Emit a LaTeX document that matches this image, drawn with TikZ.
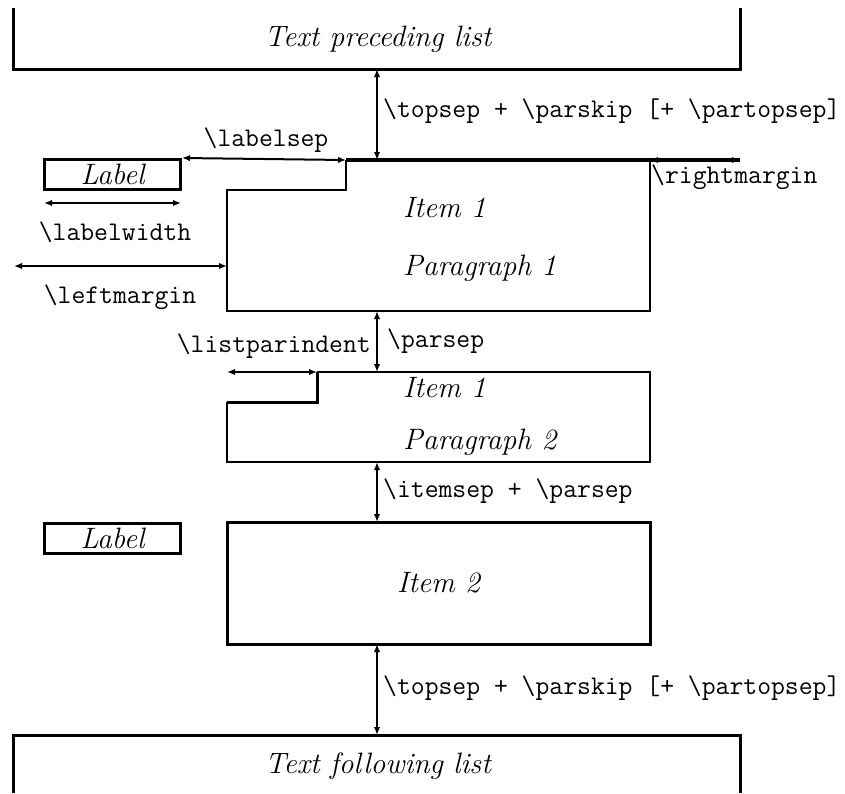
\documentclass[tikz,border=0pt]{standalone}
\usetikzlibrary{arrows.meta}
\begin{document}
\begin{tikzpicture}[x=1pt,y=-1pt,
  thinrule/.style={line width=2pt},
  thickrule/.style={line width=3pt},
  dimline/.style={line width=2pt,{Latex[length=8pt,width=6.5pt]}-{Latex[length=8pt,width=6.5pt]}},
  itlabel/.style={font=\fontsize{29.5}{34}\selectfont\itshape,inner sep=0pt},
  ttlabel/.style={font=\fontsize{26.9}{32}\selectfont\ttfamily,inner sep=0pt},
  labelbox/.style={draw,thickrule,minimum width=136pt,minimum height=30pt,inner sep=0pt,font=\fontsize{29.5}{34}\selectfont\itshape}]
\useasboundingbox (0,0) rectangle (845,793);

% ---- top box (text preceding list)
\coordinate (tb1) at (13,8);
\coordinate (tb2) at (13,69);
\coordinate (tb3) at (740,69);
\coordinate (tb4) at (740,8);
\draw[thickrule] (tb1) -- (tb2) -- (tb3) -- (tb4);
\node[itlabel,anchor=base] (tpre) at (378,46) {Text preceding list};

% ---- first item
\coordinate (topmid) at (377,69);
\coordinate (i1top) at (377,160);
\coordinate (i1a) at (346,160);
\coordinate (i1b) at (346,190);
\coordinate (i1c) at (227,190);
\coordinate (i1d) at (227,311);
\coordinate (i1e) at (650,311);
\coordinate (i1f) at (650,160);
\coordinate (rmend) at (740,160);
\coordinate (i1bot) at (377,311);

\node[labelbox] (lab1) at (112.5,174.5) {Label};

\draw[thinrule] (i1a) -- (i1b) -- (i1c) -- (i1d) -- (i1e) -- (i1f);
\draw[line width=3.6pt] (i1a) -- (rmend);
\draw[dimline] (topmid) -- (i1top);
\draw[dimline] (lab1.north east) -- (i1a);
\draw[dimline] (i1f) -- (rmend);

\coordinate (lw1) at (44,203);
\coordinate (lw2) at (181,203);
\draw[dimline] (lw1) -- (lw2);
\coordinate (lm1) at (14,266);
\coordinate (lm2) at (227,266);
\draw[dimline] (lm1) -- (lm2);

\node[ttlabel,anchor=base west] (tsep1) at (383,117) {\string\topsep\ + \string\parskip\ [+ \string\partopsep]};
\node[ttlabel,anchor=base] (lsep) at (266,146) {\string\labelsep};
\node[ttlabel,anchor=base west] (rmar) at (651,183) {\string\rightmargin};
\node[ttlabel,anchor=base] (lwid) at (115,240) {\string\labelwidth};
\node[ttlabel,anchor=base] (lmar) at (120,303) {\string\leftmargin};
\node[itlabel,anchor=base west] (it1) at (403,217) {Item 1};
\node[itlabel,anchor=base west] (par1) at (403,275) {Paragraph 1};

% ---- second paragraph of item 1
\coordinate (p2top) at (377,372);
\coordinate (p2a) at (317,372);
\coordinate (p2b) at (650,372);
\coordinate (p2c) at (650,462);
\coordinate (p2d) at (227,462);
\coordinate (p2e) at (227,402);
\coordinate (p2f) at (317,402);
\coordinate (p2g) at (227,372);
\coordinate (p2bot) at (377,462);

\draw[thinrule] (p2a) -- (p2b) -- (p2c) -- (p2d) -- (p2e);
\draw[thickrule] (p2e) -- (p2f) -- (p2a);
\draw[dimline] (i1bot) -- (p2top);
\draw[dimline] (p2g) -- (p2a);

\node[ttlabel,anchor=base west] (psep) at (387,347) {\string\parsep};
\node[ttlabel,anchor=base east] (lpi) at (371,352) {\string\listparindent};
\node[itlabel,anchor=base west] (it1b) at (403,397) {Item 1};
\node[itlabel,anchor=base west] (par2) at (403,449) {Paragraph 2};

% ---- item 2
\node[draw,thickrule,minimum width=423pt,minimum height=122pt,inner sep=0pt,font=\fontsize{29.5}{34}\selectfont\itshape] (item2) at (438.5,583) {Item 2};
\node[labelbox] (lab2) at (112.5,538) {Label};
\coordinate (i2top) at (377,522);
\coordinate (i2bot) at (377,644);
\draw[dimline] (p2bot) -- (i2top);
\node[ttlabel,anchor=base west] (isep) at (383,497) {\string\itemsep\ + \string\parsep};

% ---- bottom box (text following list)
\coordinate (bb1) at (13,793);
\coordinate (bb2) at (13,735);
\coordinate (bb3) at (740,735);
\coordinate (bb4) at (740,793);
\coordinate (bbmid) at (377,735);
\draw[thickrule] (bb1) -- (bb2) -- (bb3) -- (bb4);
\draw[dimline] (i2bot) -- (bbmid);
\node[ttlabel,anchor=base west] (tsep2) at (383,694) {\string\topsep\ + \string\parskip\ [+ \string\partopsep]};
\node[itlabel,anchor=base] (tfol) at (378,773) {Text following list};
\end{tikzpicture}
\end{document}
